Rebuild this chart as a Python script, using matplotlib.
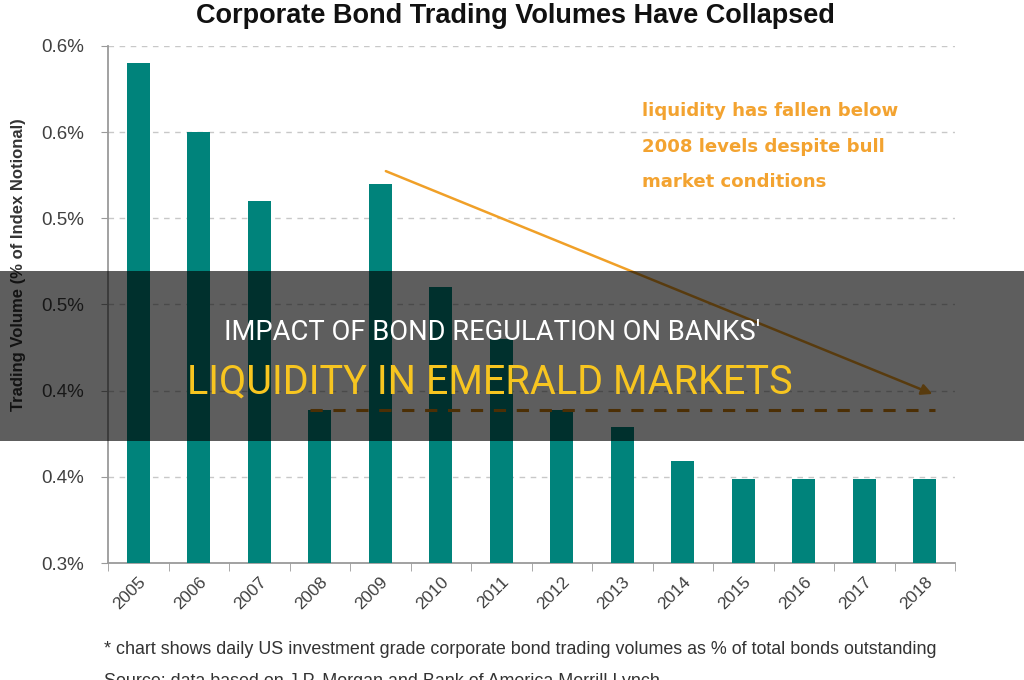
import matplotlib
matplotlib.use("Agg")
import matplotlib.pyplot as plt
from matplotlib.patches import Rectangle
import numpy as np

years = ["2005", "2006", "2007", "2008", "2009", "2010", "2011",
         "2012", "2013", "2014", "2015", "2016", "2017", "2018"]
volumes = [0.590, 0.550, 0.510, 0.389, 0.520, 0.460, 0.430,
           0.389, 0.379, 0.359, 0.349, 0.349, 0.349, 0.349]
yticks = [0.30, 0.35, 0.40, 0.45, 0.50, 0.55, 0.60]
ytick_labels = ["0.3%", "0.4%", "0.4%", "0.5%", "0.5%", "0.6%", "0.6%"]

title = "Corporate Bond Trading Volumes Have Collapsed"
ylabel = "Trading Volume (% of Index Notional)"
note_lines = ["liquidity has fallen below", "2008 levels despite bull", "market conditions"]
footnote = "* chart shows daily US investment grade corporate bond trading volumes as % of total bonds outstanding"
source = "Source: data based on J.P. Morgan and Bank of America Merrill Lynch"
banner1 = "IMPACT OF BOND REGULATION ON BANKS'"
banner2 = "LIQUIDITY IN EMERALD MARKETS"

narrow = ["Liberation Sans Narrow", "Liberation Sans", "DejaVu Sans"]

fig = plt.figure(figsize=(10.24, 6.8), dpi=100)
ax = fig.add_axes([108/1024, 1-563/680, (955-108)/1024, (563-46)/680])

x = np.arange(len(years))
ax.bar(x, volumes, width=0.38, color="#00837B", zorder=3)
ax.set_xlim(-0.5, len(years)-0.5)
ax.set_ylim(0.30, 0.60)

ax.set_yticks(yticks)
ax.set_yticklabels(ytick_labels, fontsize=13.5, color="#404040", family="Liberation Sans")
ax.set_xticks(x)
ax.set_xticklabels(years, rotation=45, ha="right", rotation_mode="anchor",
                   fontsize=12.5, color="#404040", family="Liberation Sans")
ax.tick_params(axis="x", which="major", length=0, pad=8)
ax.set_xticks(np.arange(-0.5, len(years)), minor=True)
ax.tick_params(axis="x", which="minor", length=6, color="#9A9A9A", direction="out")
ax.tick_params(axis="y", length=5, color="#9A9A9A", pad=12)

for y in yticks[1:]:
    ax.axhline(y, color="#C8C8C8", lw=1, ls=(0, (4, 4)), zorder=1)

for s in ["top", "right"]:
    ax.spines[s].set_visible(False)
for s in ["left", "bottom"]:
    ax.spines[s].set_color("#9A9A9A")
    ax.spines[s].set_linewidth(1.3)

ax.set_ylabel(ylabel, fontsize=12, fontweight="bold", color="#333333",
              family="Liberation Sans", labelpad=12)
ax.yaxis.set_label_coords(-0.097, 0.578)

# trend arrow and 2008 reference line
ax.annotate("", xy=(13.17, 0.3975), xytext=(4.05, 0.528),
            arrowprops=dict(arrowstyle="-|>", color="#F0A028", lw=1.8,
                            mutation_scale=16), zorder=4)
ax.plot([2.84, 13.17], [volumes[3]]*2, color="#D08010", lw=2.2,
        ls=(0, (4, 3.5)), zorder=4)

for i, line in enumerate(note_lines):
    fig.text(642/1024, 1-(111+35.5*i)/680, line, color="#F3A330", fontsize=13.1,
             fontweight="bold", ha="left", va="center", family="DejaVu Sans")

fig.text(515/1024, 1-16/680, title, ha="center", va="center", fontsize=19.5,
         fontweight="bold", color="#111111", family=narrow)
fig.text(104/1024, 1-650/680, footnote, ha="left", va="center", fontsize=12.9,
         color="#333333", family=narrow)
fig.text(104/1024, 1-673/680, source, ha="left", va="top", fontsize=12.9,
         color="#333333", family=narrow)

# banner overlay
fig.patches.append(Rectangle((0, 1-441/680), 1, 170/680, transform=fig.transFigure,
                             facecolor="black", alpha=0.63, zorder=10))
fig.text(492/1024, 1-333/680, banner1, ha="center", va="center", fontsize=19.7,
         color="white", family="Roboto", zorder=11)
fig.text(490/1024, 1-382/680, banner2, ha="center", va="center", fontsize=28.5,
         color="#F7C520", family="Roboto", zorder=11)

fig.savefig("out.png", dpi=100)
